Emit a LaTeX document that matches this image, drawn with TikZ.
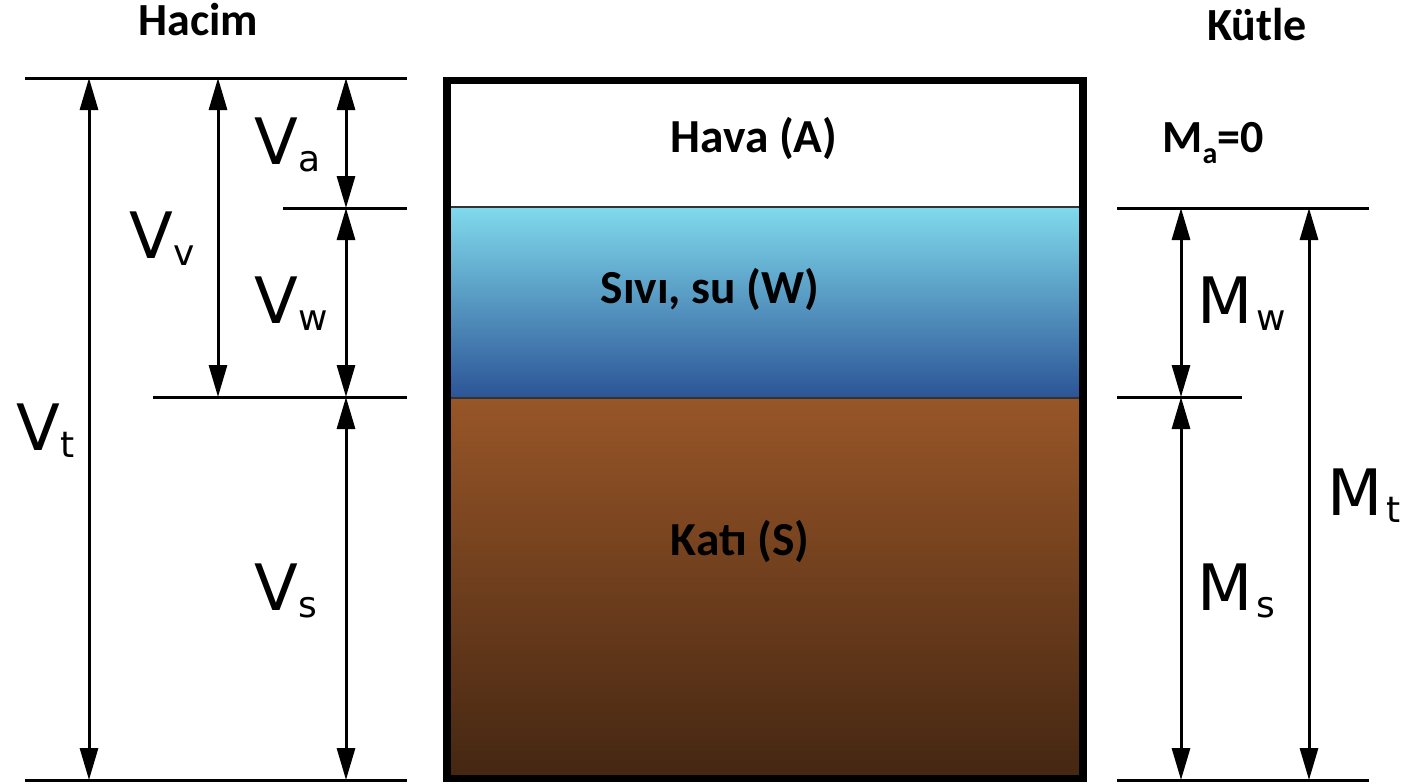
\documentclass[tikz,border=0pt]{standalone}
\usepackage{fontspec}
\setmainfont{DejaVu Sans}
\newfontfamily\phasefont{Carlito}
\usetikzlibrary{arrows.meta}

\definecolor{watertop}{RGB}{128,218,236}
\definecolor{waterbot}{RGB}{44,84,150}
\definecolor{soiltop}{RGB}{152,86,40}
\definecolor{soilbot}{RGB}{68,38,18}

% quantity symbol with a lowered, smaller index
\newcommand\qsym[2]{#1\raisebox{-3.5pt}{\fontsize{18}{18}\selectfont #2}}

\tikzset{
  dimline/.style={line width=1.5pt, line cap=butt},
  dimarrow/.style={line width=1.5pt,
    {Triangle[length=16pt,width=9pt]}-{Triangle[length=16pt,width=9pt]}},
  qty/.style={font=\fontsize{32}{32}\selectfont, inner sep=0pt, anchor=base west},
  phase/.style={font=\phasefont\bfseries\fontsize{23.7}{23.7}\selectfont,
    inner sep=0pt, anchor=base},
  heading/.style={font=\phasefont\bfseries\fontsize{23}{23}\selectfont,
    inner sep=0pt, anchor=base},
}

\begin{document}
\begin{tikzpicture}[x=0.5pt,y=-0.5pt]
\useasboundingbox (0,0) rectangle (1408,783);

% ---- container with the three phases ----
\shade[top color=watertop, bottom color=waterbot] (447,207) rectangle (1083,398);
\shade[top color=soiltop, bottom color=soilbot] (447,398) rectangle (1083,778);
\draw[line width=1pt, black!80] (447,207) -- (1083,207);
\draw[line width=1pt, black!80] (447,398) -- (1083,398);
\draw[line width=3.8pt] (447,80.5) rectangle (1083,778.5);

\node[phase] (air) at (754,152) {Hava (A)};
\node[phase] (water) at (710,303) {Sıvı, su (W)};
\node[phase] (solid) at (740,555) {Katı (S)};

% ---- headings ----
\node[heading] (hacim) at (198.5,35) {Hacim};
\node[heading] (kutle) at (1257,40) {Kütle};

% ---- volume side: reference levels ----
\coordinate (lt0) at (25,78);   \coordinate (lt1) at (407,78);
\coordinate (la0) at (283,208); \coordinate (la1) at (407,208);
\coordinate (lw0) at (153,397); \coordinate (lw1) at (407,397);
\coordinate (lb0) at (25,780);  \coordinate (lb1) at (407,780);
\draw[dimline] (lt0) -- (lt1);
\draw[dimline] (la0) -- (la1);
\draw[dimline] (lw0) -- (lw1);
\draw[dimline] (lb0) -- (lb1);

% volume dimension arrows
\coordinate (vt-a) at (89,78);   \coordinate (vt-b) at (89,780);
\coordinate (vv-a) at (218,78);  \coordinate (vv-b) at (218,397);
\coordinate (va-a) at (346,78);  \coordinate (va-b) at (346,208);
\coordinate (vw-a) at (346,208); \coordinate (vw-b) at (346,397);
\coordinate (vs-a) at (346,397); \coordinate (vs-b) at (346,780);
\draw[dimarrow] (vt-a) -- (vt-b);
\draw[dimarrow] (vv-a) -- (vv-b);
\draw[dimarrow] (va-a) -- (va-b);
\draw[dimarrow] (vw-a) -- (vw-b);
\draw[dimarrow] (vs-a) -- (vs-b);

\node[qty] (Va) at (254,164) {\qsym{V}{a}};
\node[qty] (Vv) at (129,258) {\qsym{V}{v}};
\node[qty] (Vw) at (254,323) {\qsym{V}{w}};
\node[qty] (Vt) at (16,450)  {\qsym{V}{t}};
\node[qty] (Vs) at (254,610) {\qsym{V}{s}};

% ---- mass side: reference levels ----
\coordinate (rw0) at (1117,208); \coordinate (rw1) at (1369,208);
\coordinate (rs0) at (1117,397); \coordinate (rs1) at (1242,397);
\coordinate (rb0) at (1117,780); \coordinate (rb1) at (1369,780);
\draw[dimline] (rw0) -- (rw1);
\draw[dimline] (rs0) -- (rs1);
\draw[dimline] (rb0) -- (rb1);

% mass dimension arrows
\coordinate (mw-a) at (1181,208); \coordinate (mw-b) at (1181,397);
\coordinate (ms-a) at (1181,397); \coordinate (ms-b) at (1181,780);
\coordinate (mt-a) at (1309,208); \coordinate (mt-b) at (1309,780);
\draw[dimarrow] (mw-a) -- (mw-b);
\draw[dimarrow] (ms-a) -- (ms-b);
\draw[dimarrow] (mt-a) -- (mt-b);

\node[qty] (Mw) at (1197,323) {\qsym{M}{\kern2pt w}};
\node[qty] (Mt) at (1327,515) {\qsym{M}{\kern2pt t}};
\node[qty] (Ms) at (1197,610) {\qsym{M}{\kern2pt s}};

\node[phase, font=\phasefont\bfseries\fontsize{23}{23}\selectfont, anchor=base west] (Ma) at (1162,152)
  {M\raisebox{-5.5pt}{\fontsize{15}{15}\selectfont a}=0};
\end{tikzpicture}
\end{document}
